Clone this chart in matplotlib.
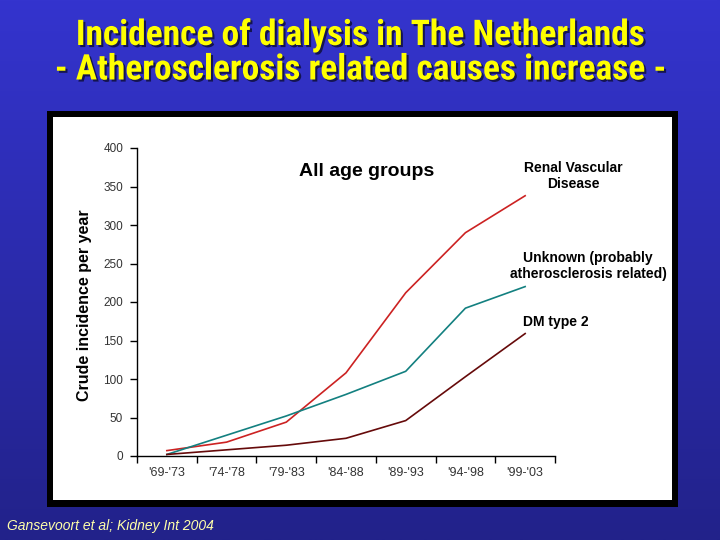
import matplotlib
matplotlib.use("Agg")
import matplotlib.pyplot as plt
import matplotlib.patheffects as pe
from matplotlib.patches import Rectangle
import numpy as np

periods = ["'69-'73", "'74-'78", "'79-'83", "'84-'88", "'89-'93", "'94-'98", "'99-'03"]
renal_vascular = [7, 18, 44, 108, 212, 290, 338]
unknown_athero = [2, 27, 52, 80, 110, 192, 220]
dm_type2 = [2, 8, 14, 23, 46, 103, 159]
y_ticks = [0, 50, 100, 150, 200, 250, 300, 350, 400]

W, H = 720, 540
fig = plt.figure(figsize=(7.2, 5.4), dpi=100)

# blue gradient slide background
bg = fig.add_axes([0, 0, 1, 1])
grad = np.linspace(0, 1, 256)[:, None]
top = np.array([52, 52, 206]) / 255
bot = np.array([34, 34, 138]) / 255
img = top[None, None, :] * (1 - grad[:, :, None]) + bot[None, None, :] * grad[:, :, None]
bg.imshow(img, aspect="auto", extent=[0, W, H, 0])
bg.set_xlim(0, W)
bg.set_ylim(H, 0)
bg.axis("off")

# white chart panel with black frame
bg.add_patch(Rectangle((47, 111), 631, 396, facecolor="black", edgecolor="none"))
bg.add_patch(Rectangle((53, 117), 619, 383, facecolor="white", edgecolor="none"))

title_font = ["Roboto Condensed", "Liberation Sans"]
shadow = [pe.withSimplePatchShadow(offset=(1.5, -1.5), shadow_rgbFace="#111144", alpha=0.9)]
bg.text(360, 35, "Incidence of dialysis in The Netherlands", color="#ffff00",
        fontsize=25.5, fontweight="bold", family=title_font, ha="center", va="center",
        path_effects=shadow)
bg.text(360, 70, "- Atherosclerosis related causes increase -", color="#ffff00",
        fontsize=25.5, fontweight="bold", family=title_font, ha="center", va="center",
        path_effects=shadow)

bg.text(7, 526, "Gansevoort et al; Kidney Int 2004", color="#ffffaa", fontsize=10,
        style="italic", family="Liberation Sans", ha="left", va="center")

# plot axes: x 137..555, y 456 (0) .. 148 (400)
ax = fig.add_axes([137 / W, 1 - 456 / H, (555 - 137) / W, (456 - 148) / H])
ax.patch.set_alpha(0)
x = np.arange(len(periods)) + 0.5
ax.plot(x, renal_vascular, color="#cc2222", lw=1.2)
ax.plot(x, unknown_athero, color="#138080", lw=1.2)
ax.plot(x, dm_type2, color="#660a0a", lw=1.2)

ax.set_xlim(0, len(periods))
ax.set_ylim(0, 400)
ax.set_yticks(y_ticks)
ax.set_yticklabels([str(v) for v in y_ticks], fontsize=8.5, color="#333333", family="Liberation Sans")
ax.set_xticks(np.arange(len(periods) + 1))
ax.set_xticklabels([])
ax.set_xticks(x, minor=True)
ax.set_xticklabels(periods, minor=True, fontsize=9, color="#333333", family="Liberation Sans")
ax.tick_params(axis="x", which="minor", length=0, pad=8)
ax.tick_params(axis="x", which="major", length=5, width=1, direction="out")
ax.tick_params(axis="y", length=5, width=1, direction="out", pad=5)
for s in ["top", "right"]:
    ax.spines[s].set_visible(False)
for s in ["left", "bottom"]:
    ax.spines[s].set_linewidth(1)

bg.text(85, 305, "Crude incidence per year", rotation=90, fontsize=11.5, fontweight="bold",
        family="Liberation Sans", ha="center", va="center", color="black")

bg.text(367, 172, "All age groups", fontsize=14, fontweight="bold", family="Liberation Sans",
        ha="center", va="center")
bg.text(573, 176, "Renal Vascular\nDisease", fontsize=10, fontweight="bold",
        family="Liberation Sans", ha="center", va="center", linespacing=1.15)
bg.text(588, 266, "Unknown (probably\natherosclerosis related)", fontsize=10, fontweight="bold",
        family="Liberation Sans", ha="center", va="center", linespacing=1.15)
bg.text(556, 322, "DM type 2", fontsize=10, fontweight="bold",
        family="Liberation Sans", ha="center", va="center")

fig.savefig("out.png", dpi=100)
